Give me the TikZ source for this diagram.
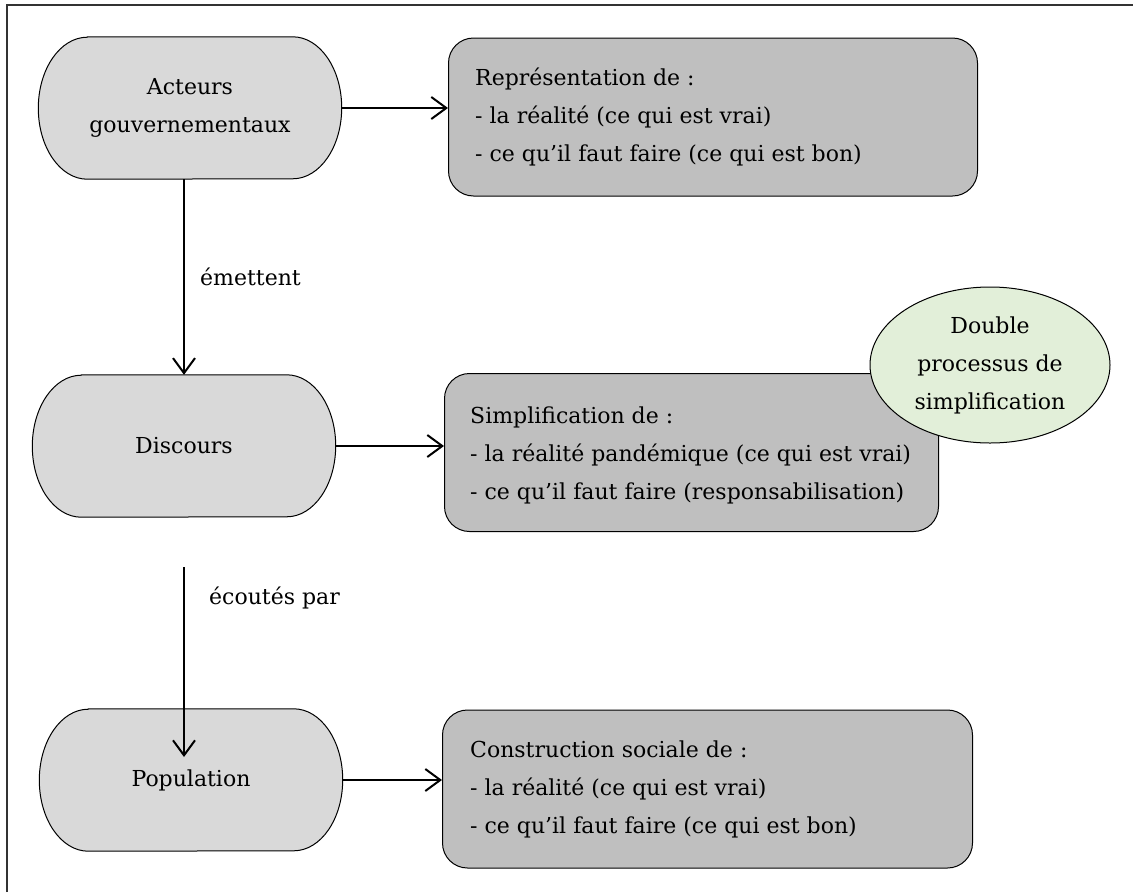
\documentclass[tikz,border=0pt]{standalone}
\usepackage{fontspec}
\setmainfont{DejaVu Serif}
\usetikzlibrary{arrows.meta,shapes.geometric,backgrounds}
\definecolor{termgray}{HTML}{D9D9D9}
\definecolor{boxgray}{HTML}{BFBFBF}
\definecolor{elgreen}{HTML}{E2EFD9}
\begin{document}
\begin{tikzpicture}[x=1pt,y=1pt,
  font=\fontsize{22}{38}\selectfont,
  frame/.style={line width=1.2pt, draw=black!80},
  term/.style={rectangle, minimum width=303pt, minimum height=142pt, inner sep=0pt, align=center},
  termshape/.style={draw=black, line width=1pt, fill=termgray},
  infobox/.style={draw=black, line width=1pt, fill=boxgray, rounded corners=25pt,
    inner sep=0pt, minimum width=#1, minimum height=158pt, anchor=west},
  boxtext/.style={align=left, inner sep=0pt, anchor=west},
  lbl/.style={inner sep=0pt, anchor=west},
  arr/.style={line width=2pt, -{Straight Barb[length=15pt,width=22pt]}}
]
\useasboundingbox (0,0) rectangle (1133,-892);
\draw[frame] (7,-892) -- (7,-5) -- (1133,-5);

% terminator nodes
\node[term] (acteurs) at (190,-108) {Acteurs\\gouvernementaux};
\node[term] (discours) at (184,-446) {Discours};
\node[term] (population) at (191,-780) {Population};
\begin{scope}[on background layer]
\foreach \n in {acteurs,discours,population}
  \path[termshape] ([xshift=49pt]\n.north west) -- ([xshift=-49pt]\n.north east)
    arc[start angle=90,end angle=-90,x radius=49pt,y radius=71pt]
    -- ([xshift=49pt]\n.south west)
    arc[start angle=270,end angle=90,x radius=49pt,y radius=71pt] -- cycle;
\end{scope}

% info boxes
\node[infobox=529pt] (box1) at (448,-117) {};
\node[boxtext] (box1t) at ([xshift=27pt]box1.west) {Représentation de :\\- la réalité (ce qui est vrai)\\- ce qu’il faut faire (ce qui est bon)};
\node[infobox=494pt] (box2) at (444,-452.5) {};
\node[boxtext] (box2t) at ([xshift=26pt,yshift=-3pt]box2.west) {Simplification de :\\- la réalité pandémique (ce qui est vrai)\\- ce qu’il faut faire (responsabilisation)};
\node[infobox=530pt] (box3) at (442,-789) {};
\node[boxtext] (box3t) at ([xshift=28pt]box3.west) {Construction sociale de :\\- la réalité (ce qui est vrai)\\- ce qu’il faut faire (ce qui est bon)};

% ellipse
\node[ellipse, draw=black, line width=1pt, fill=elgreen, minimum width=240pt, minimum height=156pt,
  inner sep=0pt, align=center] (dbl) at (990,-365) {Double\\processus de\\simplification};

% labels
\node[lbl] (lblA) at (200,-277) {émettent};
\node[lbl] (lblB) at (209,-598) {écoutés par};

% connectors
\draw[arr] (acteurs.east) -- (acteurs.east -| box1.west);
\draw[arr] (discours.north |- acteurs.south) -- (discours.north);
\draw[arr] (discours.east) -- (discours.east -| box2.west);
\coordinate (c3s) at (184,-567);
\coordinate (c3e) at (184,-757);
\draw[arr] (c3s) -- (c3e);
\draw[arr] (population.east) -- (population.east -| box3.west);
\end{tikzpicture}
\end{document}
